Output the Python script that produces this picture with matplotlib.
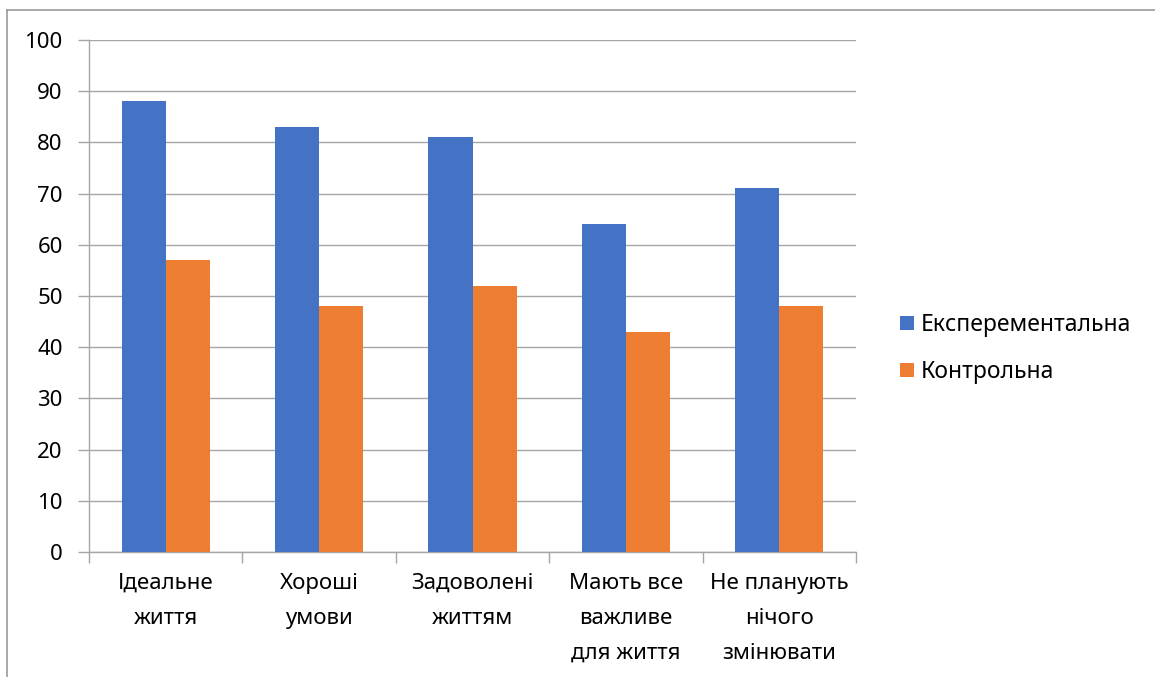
import matplotlib.pyplot as plt
import numpy as np
from matplotlib.lines import Line2D

plt.rcParams["font.family"] = ["Noto Sans", "DejaVu Sans"]

categories = [
    "Ідеальне\nжиття",
    "Хороші\nумови",
    "Задоволені\nжиттям",
    "Мають все\nважливе\nдля життя",
    "Не планують\nнічого\nзмінювати",
]
experimental = [88, 83, 81, 64, 71]
control = [57, 48, 52, 43, 48]
series_names = ["Експерементальна", "Контрольна"]
y_ticks = list(range(0, 101, 10))

blue = "#4472C4"
orange = "#ED7D31"
grey = "#a6a6a6"

figure = plt.figure(figsize=(11.55, 6.77), dpi=100)
axis = figure.add_axes([0.0771, 0.1846, 0.664, 0.7563])

x = np.arange(len(categories))
width = 0.287

axis.bar(x - width / 2, experimental, width, color=blue, label=series_names[0], zorder=3)
axis.bar(x + width / 2, control, width, color=orange, label=series_names[1], zorder=3)

axis.set_xlim(-0.5, len(categories) - 0.5)
axis.set_ylim(0, 100)
axis.set_yticks(y_ticks)
axis.tick_params(axis="y", length=8, color=grey, width=1, pad=11, labelsize=16)

# category labels sit between boundary ticks
axis.set_xticks(np.arange(len(categories) + 1) - 0.5)
axis.set_xticklabels([])
axis.set_xticks(x, minor=True)
axis.set_xticklabels(categories, minor=True, fontsize=16, linespacing=1.88, va="top")
axis.tick_params(axis="x", which="major", length=8, color=grey, width=1)
axis.tick_params(axis="x", which="minor", length=0, pad=15)

axis.grid(axis="y", color=grey, linewidth=1, zorder=0)
for side in ["top", "right"]:
    axis.spines[side].set_visible(False)
for side in ["left", "bottom"]:
    axis.spines[side].set_color(grey)
    axis.spines[side].set_linewidth(1)

axis.legend(
    loc="center left",
    bbox_to_anchor=(0.7616, 0.485),
    bbox_transform=figure.transFigure,
    frameon=False,
    fontsize=16.5,
    handlelength=0.6,
    handleheight=0.6,
    handletextpad=0.3,
    labelspacing=1.0,
)

# outer frame along the top and left edges
figure.add_artist(Line2D([0.006, 1.0], [0.985, 0.985], color="#999999", linewidth=1.2, transform=figure.transFigure))
figure.add_artist(Line2D([0.006, 0.006], [0.0, 0.985], color="#999999", linewidth=1.2, transform=figure.transFigure))

figure.savefig("out.png", dpi=100)
